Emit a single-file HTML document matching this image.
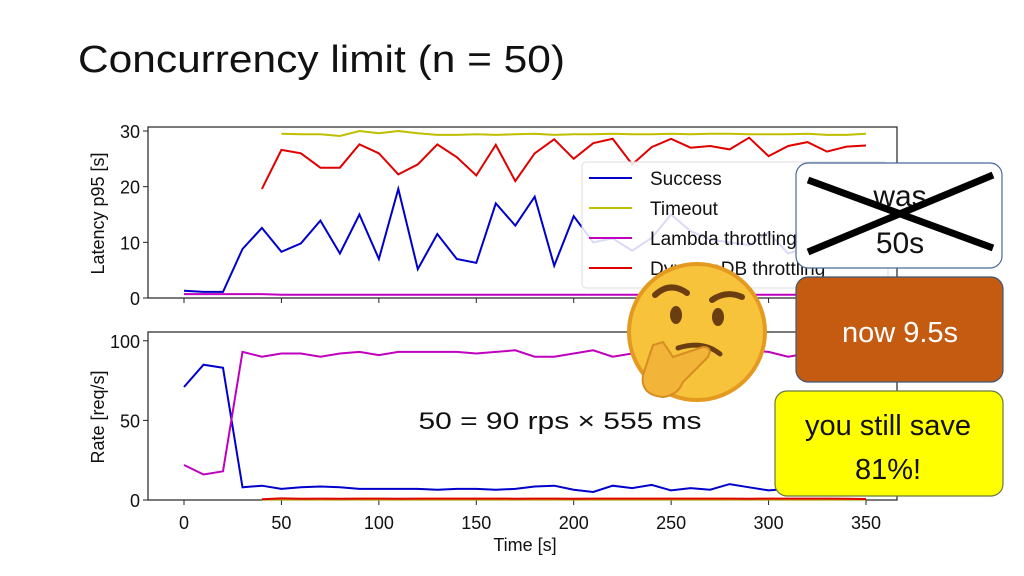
<!DOCTYPE html>
<html><head><meta charset="utf-8">
<style>
body{margin:0;background:#fff;width:1024px;height:576px;overflow:hidden;font-family:"Liberation Sans",sans-serif}
svg{position:absolute;left:0;top:0}
</style></head>
<body>
<svg width="1024" height="576">
<text x="78" y="72" font-size="38" fill="#111" textLength="487" lengthAdjust="spacingAndGlyphs">Concurrency limit (n = 50)</text>
<g id="topChart"></g>
<g id="botChart"></g>
<g id="over">
<text x="560" y="429" font-size="24" text-anchor="middle" fill="#111" textLength="283" lengthAdjust="spacingAndGlyphs">50 = 90 rps × 555 ms</text>
<g>
<circle cx="697" cy="332" r="68" fill="#f6c33a"/>
<circle cx="697" cy="332" r="68" fill="none" stroke="#e49a20" stroke-width="4"/>
<path d="M655 295 q15 -14 32 -2" stroke="#6b3e12" stroke-width="6" fill="none" stroke-linecap="round"/>
<path d="M712 300 q14 -10 30 -3" stroke="#6b3e12" stroke-width="6" fill="none" stroke-linecap="round"/>
<ellipse cx="676" cy="315" rx="6" ry="9" fill="#6b3e12"/>
<ellipse cx="718" cy="317" rx="6" ry="9" fill="#6b3e12"/>
<path d="M678 348 q25 -8 42 6" stroke="#6b3e12" stroke-width="5" fill="none" stroke-linecap="round"/>
<path d="M653 345 l-10 30 q-3 20 20 22 q15 -2 20 -15 l25 -25 q5 -10 -5 -10 l-30 10 l-10 -15 z" fill="#f3b43a" stroke="#d68d22" stroke-width="2"/>
</g>
<g>
<rect x="796" y="163" width="206" height="105" rx="12" fill="#fff" stroke="#4a6a9a" stroke-width="1.2"/>
<text x="900" y="206" font-size="30" text-anchor="middle" fill="#111">was</text>
<text x="900" y="253" font-size="30" text-anchor="middle" fill="#111">50s</text>
<line x1="808" y1="180" x2="993" y2="248" stroke="#000" stroke-width="7"/>
<line x1="808" y1="252" x2="993" y2="175" stroke="#000" stroke-width="7"/>
</g>
<g>
<rect x="796" y="277" width="207" height="105" rx="12" fill="#c55a11" stroke="#41577a" stroke-width="1.2"/>
<text x="900" y="342" font-size="29" text-anchor="middle" fill="#fff">now 9.5s</text>
</g>
<g>
<rect x="775" y="391" width="228" height="105" rx="12" fill="#ffff00" stroke="#6a7a3a" stroke-width="1.2"/>
<text x="888" y="435" font-size="29" text-anchor="middle" fill="#111">you still save</text>
<text x="888" y="479" font-size="29" text-anchor="middle" fill="#111">81%!</text>
</g>
</g>
</svg>
<script>
const times=[0,10,20,30,40,50,60,70,80,90,100,110,120,130,140,150,160,170,180,190,200,210,220,230,240,250,260,270,280,290,300,310,320,330,340,350];
const latSuccess=[1.3,1.1,1.1,8.8,12.6,8.3,9.8,13.9,8.0,15.0,7.0,19.6,5.2,11.5,7.0,6.3,17.0,13.0,18.2,5.8,14.7,10.0,10.7,8.5,10.8,15,12,10.5,10,9.5,11.8,8,9,12,10,11];
const latTimeout=[null,null,null,null,null,29.5,29.4,29.4,29.1,30,29.6,30,29.6,29.3,29.3,29.4,29.3,29.4,29.5,29.3,29.4,29.4,29.5,29.4,29.4,29.5,29.4,29.5,29.5,29.4,29.4,29.4,29.5,29.3,29.3,29.5];
const latLambda=[0.7,0.7,0.7,0.7,0.7,0.6,0.6,0.6,0.6,0.6,0.6,0.6,0.6,0.6,0.6,0.6,0.6,0.6,0.6,0.6,0.6,0.6,0.6,0.6,0.6,0.6,0.6,0.6,0.6,0.6,0.6,0.6,0.6,0.6,0.6,0.6];
const latDynamo=[null,null,null,null,19.6,26.6,26,23.4,23.4,27.6,26,22.2,24,27.6,25.3,22,27.5,21,26,28.5,25,27.8,28.6,24,27.1,28.6,27,27.3,26.7,28.8,25.5,27.3,28,26.3,27.2,27.4];
const rateSuccess=[71,85,83,8,9,7,8,8.5,8,7,7,7,7,6.5,7,7,6.5,7,8.5,9,6.5,5,9,7.5,9.5,6,7.5,6.5,10,8,6,7,7,7,6,7];
const rateLambda=[22,16,18,93,90,92,92,90,92,93,91,93,93,93,93,92,93,94,90,90,92,94,90,92,92,93,92,93,94,94,93,90,92,93,92,92];
const rateDynamo=[null,null,null,null,0.5,1,0.8,0.9,0.8,0.9,0.9,0.8,0.9,0.9,0.9,0.9,0.9,0.8,0.9,0.9,0.8,0.9,0.9,0.9,0.9,0.9,0.9,0.9,0.9,0.8,0.9,0.9,0.9,0.9,0.8,0.6];
const rateTimeout=[null,null,null,null,0.3,0.3,0.3,0.3,0.3,0.3,0.3,0.3,0.3,0.3,0.3,0.3,0.3,0.3,0.3,0.3,0.3,0.3,0.3,0.3,0.3,0.3,0.3,0.3,0.3,0.3,0.3,0.3,0.3,0.3,0.3,0.3];
const xTicks=[0,50,100,150,200,250,300,350];
const latTicks=[0,10,20,30];
const rateTicks=[0,50,100];
const NS="http://www.w3.org/2000/svg";
const X=t=>184+t*(866-184)/350;
function mk(p,tag,a){const e=document.createElementNS(NS,tag);for(const k in a)e.setAttribute(k,a[k]);p.appendChild(e);return e;}
function chart(g,ytop,ybot,ymax,ticks,series,label,showX){
  const Y=v=>ybot-v*(ybot-ytop-2)/ymax;
  const fr=mk(g,'rect',{x:148,y:ytop-2,width:749,height:ybot-ytop+2,fill:'none',stroke:'#222','stroke-width':1.2});
  
  
  ticks.forEach(v=>{
    mk(g,'line',{x1:143,x2:148,y1:Y(v),y2:Y(v),stroke:'#222'});
    const t=mk(g,'text',{x:140,y:Y(v)+7,'font-size':18,'text-anchor':'end',fill:'#111'});t.textContent=v;
    
    
  });
  xTicks.forEach(v=>{
    mk(g,'line',{x1:X(v),x2:X(v),y1:ybot,y2:ybot+5,stroke:'#222'});
    if(showX){const t=mk(g,'text',{x:X(v),y:ybot+29,'font-size':18,'text-anchor':'middle',fill:'#111'});t.textContent=v;
    
    }
  });
  const yl=mk(g,'text',{x:0,y:0,'font-size':18,'text-anchor':'middle',fill:'#111',transform:`translate(104,${(ytop+ybot)/2}) rotate(-90)`});yl.textContent=label;
  
  
  series.forEach(([arr,col,name])=>{
    let d='',pen=false;
    arr.forEach((v,i)=>{if(v==null){pen=false;return;}d+=(pen?'L':'M')+X(times[i]).toFixed(1)+' '+Y(v).toFixed(1);pen=true;});
    const p=mk(g,'path',{d,fill:'none',stroke:col,'stroke-width':2});
    
    
  });
}
const topG=document.getElementById('topChart'),botG=document.getElementById('botChart');
chart(topG,129,298,30,latTicks,[[latTimeout,'#bfbf00','timeout-line'],[latLambda,'#bf00bf','lambda-line'],[latDynamo,'#e00000','dynamo-line'],[latSuccess,'#0000cc','success-line']],'Latency p95 [s]',false);
chart(botG,334,500,103,rateTicks,[[rateTimeout,'#bfbf00','timeout-line'],[rateSuccess,'#0000cc','success-line'],[rateLambda,'#bf00bf','lambda-line'],[rateDynamo,'#e00000','dynamo-line']],'Rate [req/s]',true);
const xl=mk(botG,'text',{x:525,y:551,'font-size':18,'text-anchor':'middle',fill:'#111'});xl.textContent='Time [s]';


const lg=mk(topG,'g',{});


mk(lg,'rect',{x:582,y:162,width:306,height:126,rx:4,fill:'#fff','fill-opacity':0.85,stroke:'#ddd'});
[['Success','#0000cc'],['Timeout','#bfbf00'],['Lambda throttling','#bf00bf'],['DynamoDB throttling','#e00000']].forEach(([n,c],i)=>{
  const y=178+i*30;
  const en=mk(lg,'g',{});
  
  
  mk(en,'line',{x1:589,x2:632,y1:y,y2:y,stroke:c,'stroke-width':2});
  const t=mk(en,'text',{x:650,y:y+7,'font-size':19,fill:'#111'});t.textContent=n;
});
</script>
</body></html>
